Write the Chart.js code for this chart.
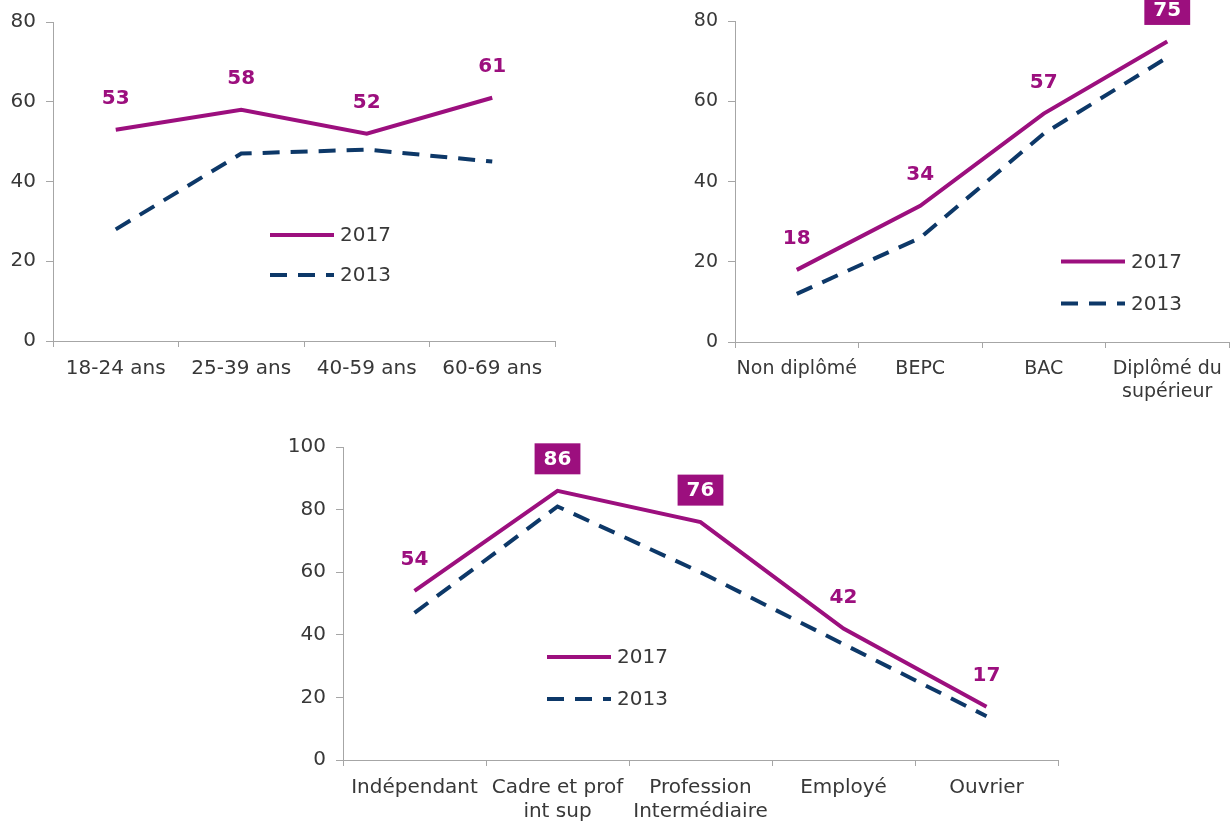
<!DOCTYPE html>
<html>
<head>
<meta charset="utf-8">
<script src="https://cdn.jsdelivr.net/npm/chart.js@4/dist/chart.umd.min.js"></script>
<style>
  body { margin: 0; background: #fff; width: 1230px; height: 825px; overflow: hidden; position: relative; }
  .box { position: absolute; }
</style>
</head>
<body>
<div class="box" style="left:0;top:0;width:560px;height:400px"><canvas id="ageChart"></canvas></div>
<div class="box" style="left:680px;top:0;width:550px;height:410px"><canvas id="diplChart"></canvas></div>
<div class="box" style="left:280px;top:425px;width:800px;height:400px"><canvas id="pcsChart"></canvas></div>
<script>
// data
const ageLabels = ['18-24 ans', '25-39 ans', '40-59 ans', '60-69 ans'];
const age2017 = [53, 58, 52, 61];
const age2013 = [28, 47, 48, 45];

const diplLabels = ['Non diplômé', 'BEPC', 'BAC', ['Diplômé du', 'supérieur']];
const dipl2017 = [18, 34, 57, 75];
const dipl2013 = [12, 26, 52, 71];

const pcsLabels = ['Indépendant', ['Cadre et prof', 'int sup'], ['Profession', 'Intermédiaire'], 'Employé', 'Ouvrier'];
const pcs2017 = [54, 86, 76, 42, 17];
const pcs2013 = [47, 81, 60, 37, 14];

const seriesNames = ['2017', '2013'];

const PURPLE = '#9c0f7e';
const NAVY = '#0d3868';
const TEXT = '#383838';
const AXIS = '#a6a6a6';
const FONT = '"DejaVu Sans", Verdana, sans-serif';

Chart.defaults.font.family = FONT;

// value labels above the 2017 line (some in a filled box)
const valueLabels = {
    id: 'valueLabels',
    afterDatasetsDraw(chart, args, opts) {
        const ctx = chart.ctx;
        const meta = chart.getDatasetMeta(0);
        const data = chart.data.datasets[0].data;
        ctx.save();
        ctx.font = 'bold 20px ' + FONT;
        ctx.textAlign = 'center';
        ctx.textBaseline = 'middle';
        meta.data.forEach((pt, i) => {
            const txt = String(data[i]);
            const y = pt.y - 32;
            if ((opts.boxed || []).includes(i)) {
                const w = ctx.measureText(txt).width + 18;
                ctx.fillStyle = PURPLE;
                ctx.fillRect(pt.x - w / 2, y - 15.5, w, 31);
                ctx.fillStyle = '#fff';
            } else {
                ctx.fillStyle = PURPLE;
            }
            ctx.fillText(txt, pt.x, y + 1);
        });
        ctx.restore();
    }
};

// legend drawn inside the plot
const innerLegend = {
    id: 'innerLegend',
    afterDraw(chart, args, opts) {
        const { ctx, chartArea } = chart;
        chart.data.datasets.forEach((ds, i) => {
            const x = chartArea.left + opts.x;
            const y = chartArea.top + opts.y + i * opts.gap;
            ctx.save();
            ctx.strokeStyle = ds.borderColor;
            ctx.lineWidth = ds.borderWidth;
            ctx.setLineDash(ds.borderDash || []);
            ctx.beginPath();
            ctx.moveTo(x, y);
            ctx.lineTo(x + 64, y);
            ctx.stroke();
            ctx.setLineDash([]);
            ctx.fillStyle = TEXT;
            ctx.font = '20px ' + FONT;
            ctx.textBaseline = 'middle';
            ctx.fillText(ds.label, x + 70, y + 1);
            ctx.restore();
        });
    }
};

function makeChart(id, labels, s2017, s2013, cfg) {
    return new Chart(document.getElementById(id), {
        type: 'line',
        data: {
            labels: labels,
            datasets: [
                { label: seriesNames[0], data: s2017, borderColor: PURPLE, borderWidth: 4, pointRadius: 0, tension: 0 },
                { label: seriesNames[1], data: s2013, borderColor: NAVY, borderWidth: 4, borderDash: [17, 11], pointRadius: 0, tension: 0 },
            ]
        },
        options: {
            responsive: true,
            maintainAspectRatio: false,
            animation: false,
            events: [],
            layout: { padding: { top: cfg.top, right: cfg.right, left: 0, bottom: 0 } },
            scales: {
                x: {
                    offset: true,
                    grid: { offset: true, drawOnChartArea: false, tickLength: 6, color: AXIS },
                    border: { color: AXIS },
                    ticks: { color: TEXT, font: { size: cfg.fs, lineHeight: 1.2 }, padding: 10, autoSkip: false, maxRotation: 0 },
                    afterFit(s) {
                        s.height = cfg.xh;
                        s.paddingLeft = 0;
                        s.paddingRight = 0;
                    }
                },
                y: {
                    min: 0,
                    max: cfg.max,
                    ticks: { stepSize: 20, color: TEXT, font: { size: cfg.fs }, padding: 10 },
                    grid: { drawOnChartArea: false, tickLength: 7, color: AXIS },
                    border: { color: AXIS },
                    afterFit(s) { s.width = cfg.yw; }
                }
            },
            plugins: {
                legend: { display: false },
                tooltip: { enabled: false },
                valueLabels: { boxed: cfg.boxed },
                innerLegend: cfg.legend
            }
        },
        plugins: [valueLabels, innerLegend]
    });
}

makeChart('ageChart', ageLabels, age2017, age2013,
    { max: 80, fs: 20, yw: 53, xh: 59, top: 17, right: 5, boxed: [], legend: { x: 217, y: 213, gap: 40 } });
makeChart('diplChart', diplLabels, dipl2017, dipl2013,
    { max: 80, fs: 19, yw: 55, xh: 68, top: 19, right: 1, boxed: [3], legend: { x: 326, y: 240, gap: 42 } });
makeChart('pcsChart', pcsLabels, pcs2017, pcs2013,
    { max: 100, fs: 20, yw: 63, xh: 65, top: 18, right: 22, boxed: [1, 2], legend: { x: 204, y: 210, gap: 42 } });
</script>
</body>
</html>
